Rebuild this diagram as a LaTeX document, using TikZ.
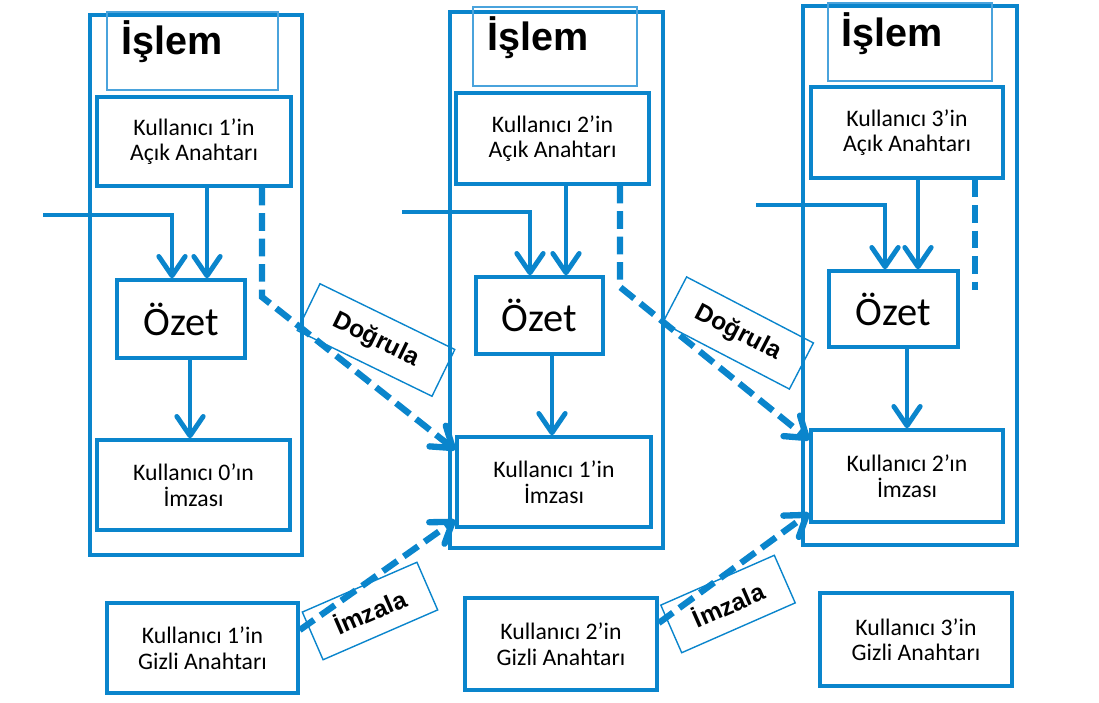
\documentclass[tikz,border=0pt]{standalone}
\usepackage{fontspec}
\setmainfont{Carlito}
\newfontfamily\headfont{Liberation Sans}
\usetikzlibrary{arrows.meta}
\definecolor{flow}{HTML}{0A85CC}
\definecolor{flowlight}{HTML}{4AA3DC}

\begin{document}
\begin{tikzpicture}[x=0.02cm,y=-0.02cm,
  frame/.style={draw=flow,line width=2pt,inner sep=0pt},
  titlebox/.style={draw=flowlight,line width=0.8pt,inner sep=0pt},
  heading/.style={anchor=base west,inner sep=0pt,font=\headfont\bfseries\fontsize{22.5}{26}\selectfont},
  box/.style={draw=flow,line width=2pt,inner sep=0pt,align=center,font=\fontsize{13.5}{14.5}\selectfont},
  hashbox/.style={box,font=\fontsize{23}{26}\selectfont},
  tag/.style={draw=flow,line width=0.8pt,inner sep=0pt,font=\headfont\bfseries\fontsize{14}{16}\selectfont},
  tip/.tip={Straight Barb[length=11pt,width=15pt,round]},
  arr/.style={draw=flow,line width=2.8pt,-tip},
  dashline/.style={draw=flow,line width=3.6pt,dash pattern=on 10pt off 4.5pt},
  dasharr/.style={dashline,-tip}
]
\useasboundingbox (0,0) rectangle (1099,703);

% ---------- first transaction ----------
\node[frame,minimum width=4.24cm,minimum height=10.8cm] (out1) at (196,285) {};
\node[titlebox,minimum width=3.42cm,minimum height=1.56cm] (t1) at (192.5,51) {};
\node[heading] (h1) at (121,54) {İşlem};
\node[box,minimum width=3.88cm,minimum height=1.78cm] (k1) at (194,141.5) {Kullanıcı 1’in\\Açık Anahtarı};
\node[hashbox,minimum width=2.56cm,minimum height=1.56cm] (oz1) at (181,319) {Özet};
\node[box,minimum width=3.86cm,minimum height=1.8cm] (s0) at (193.5,485) {Kullanıcı 0’ın\\İmzası};
\node[box,minimum width=3.82cm,minimum height=1.8cm] (g1) at (202.5,648) {Kullanıcı 1’in\\Gizli Anahtarı};

% ---------- second transaction ----------
\node[frame,minimum width=4.26cm,minimum height=10.72cm] (out2) at (556.5,280) {};
\node[titlebox,minimum width=3.28cm,minimum height=1.58cm] (t2) at (555,46.5) {};
\node[heading] (h2) at (487,51) {İşlem};
\node[box,minimum width=3.86cm,minimum height=1.82cm] (k2) at (552.5,138.5) {Kullanıcı 2’in\\Açık Anahtarı};
\node[hashbox,minimum width=2.54cm,minimum height=1.54cm] (oz2) at (539.5,315.5) {Özet};
\node[box,minimum width=3.88cm,minimum height=1.8cm] (s1) at (554,482) {Kullanıcı 1’in\\İmzası};
\node[box,minimum width=3.84cm,minimum height=1.84cm] (g2) at (561,644) {Kullanıcı 2’in\\Gizli Anahtarı};

% ---------- third transaction ----------
\node[frame,minimum width=4.28cm,minimum height=10.78cm] (out3) at (910,275.5) {};
\node[titlebox,minimum width=3.28cm,minimum height=1.56cm] (t3) at (910,42) {};
\node[heading] (h3) at (841,46) {İşlem};
\node[box,minimum width=3.84cm,minimum height=1.82cm] (k3) at (907,132.5) {Kullanıcı 3’in\\Açık Anahtarı};
\node[hashbox,minimum width=2.58cm,minimum height=1.52cm] (oz3) at (893.5,309) {Özet};
\node[box,minimum width=3.84cm,minimum height=1.84cm] (s2) at (907,476) {Kullanıcı 2’ın\\İmzası};
\node[box,minimum width=3.84cm,minimum height=1.86cm] (g3) at (916,639.5) {Kullanıcı 3’in\\Gizli Anahtarı};

% ---------- hashing inputs ----------
\coordinate (in1) at (43,215);
\coordinate (in2) at (402,212);
\coordinate (in3) at (756,205);
\draw[arr] (in1) -| (oz1.north -| 172,0);
\draw[arr] (in2) -| (oz2.north -| 530,0);
\draw[arr] (in3) -| (oz3.north -| 885,0);
\draw[arr] (k1.south -| 207,0) -- (oz1.north -| 207,0);
\draw[arr] (k2.south -| 566,0) -- (oz2.north -| 566,0);
\draw[arr] (k3.south -| 918,0) -- (oz3.north -| 918,0);
\draw[arr] (oz1.south -| 190,0) -- (s0.north -| 190,0);
\draw[arr] (oz2.south -| 552,0) -- (s1.north -| 552,0);
\draw[arr] (oz3.south -| 907,0) -- (s2.north -| 907,0);

% ---------- verification paths ----------
\draw[dasharr] (k1.south -| 262,0) -- (262,297) -- (s1.west |- 0,450);
\draw[dasharr] (k2.south -| 620,0) -- (620,287) -- (s2.west |- 0,440);
\draw[dashline] (k3.south -| 975,0) -- (975,290);

% ---------- signing paths ----------
\draw[dasharr] (g1.east |- 0,630) -- (s1.west |- 0,520);
\draw[dasharr] (g2.east |- 0,623) -- (s2.west |- 0,513);

% ---------- labels ----------
\node[tag,minimum width=3.0cm,minimum height=1.04cm,rotate=-26] (d1) at (376,340) {Doğrula};
\node[tag,minimum width=2.86cm,minimum height=1.04cm,rotate=-27.5] (d2) at (738,333) {Doğrula};
\node[tag,minimum width=2.5cm,minimum height=1.04cm,rotate=23.5] (m1) at (370,611) {İmzala};
\node[tag,minimum width=2.48cm,minimum height=1.04cm,rotate=23.7] (m2) at (728,604) {İmzala};
\end{tikzpicture}
\end{document}
